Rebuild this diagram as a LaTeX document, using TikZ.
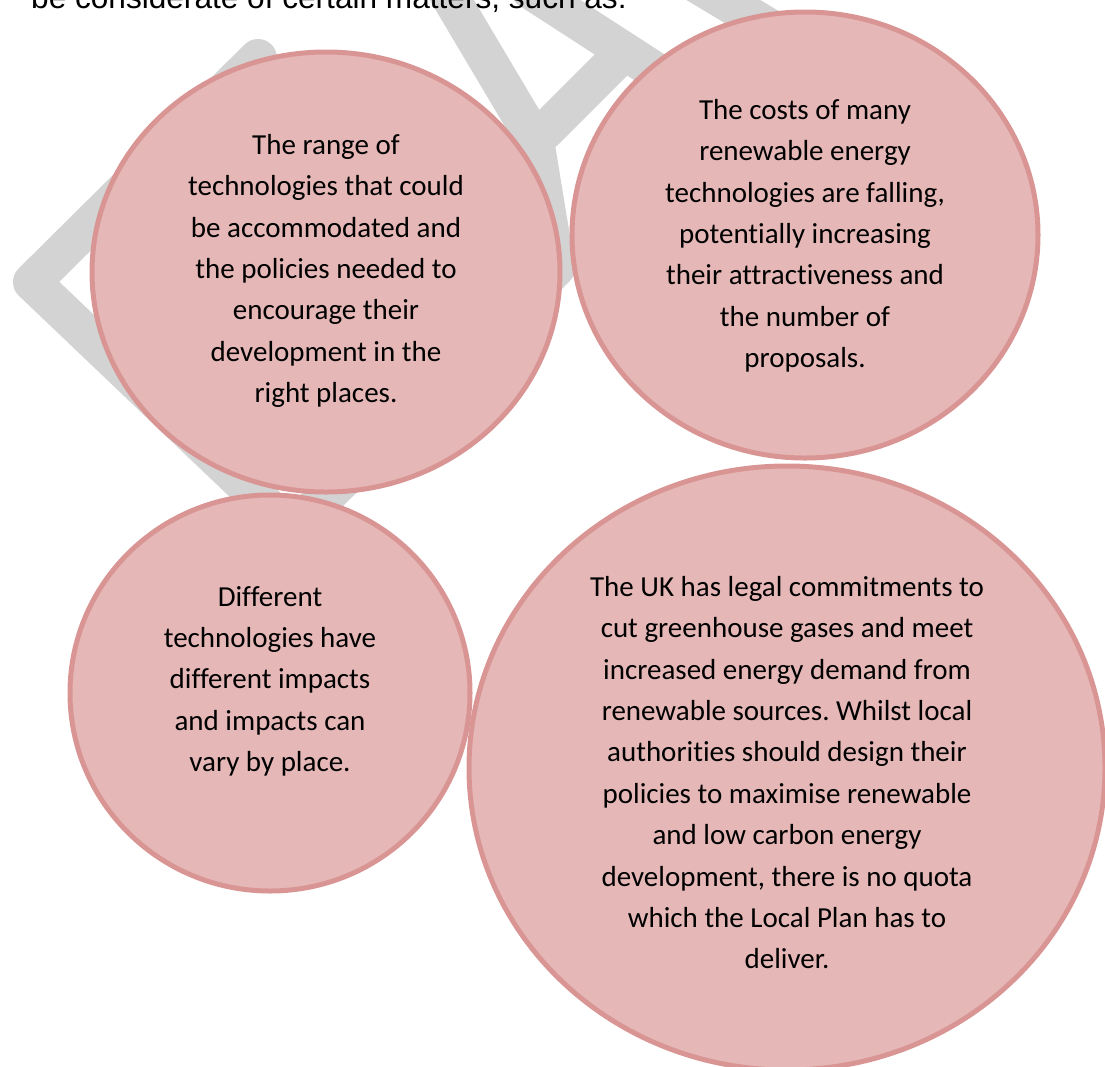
\documentclass[tikz,border=0pt]{standalone}
\usepackage{fontspec}
\setmainfont{Carlito}[Ligatures=NoCommon]
\newfontfamily\headfont{Liberation Sans}
\definecolor{bubblefill}{RGB}{229,184,183}
\definecolor{bubbleedge}{RGB}{217,149,148}
\definecolor{markgray}{RGB}{211,211,211}
\frenchspacing
\begin{document}
\begin{tikzpicture}[x=1pt,y=-1pt,
  bubble/.style={draw=bubbleedge, fill=bubblefill, line width=5pt},
  bubbletext/.style={align=center, font=\fontsize{29}{41.4}\selectfont, text=black, inner sep=0pt},
  wmstroke/.style={draw=markgray, line width=38pt, line cap=round, line join=round}]
\path[use as bounding box] (0,0) rectangle (1105,1066);
\clip (0,0) rectangle (1105,1066);

% grey background lettering
\draw[wmstroke] (258,58) -- (32,282) -- (292,530) -- (556,268) -- (535,140) -- (440,-20);
\draw[wmstroke] (530,-10) -- (700,100);
\draw[wmstroke] (545,131) -- (624,52);
\draw[wmstroke] (690,-20) -- (790,40);

% heading line
\node[anchor=base west, inner sep=0pt, font=\headfont\fontsize{31.6}{38}\selectfont] (head) at (31,8) {be considerate of certain matters, such as:};

% bubbles
\path[bubble] (326,272) ellipse [x radius=234, y radius=220];
\path[bubble] (805,235) ellipse [x radius=233, y radius=223];
\path[bubble] (270,693) ellipse [x radius=200, y radius=198];
\path[bubble] (787,768) ellipse [x radius=318, y radius=302];

\node[bubbletext, anchor=north] (t1) at (326,134) {The range of\\technologies that could\\be accommodated and\\the policies needed to\\encourage their\\development in the\\right places.};
\node[bubbletext, anchor=north] (t2) at (805,99) {The costs of many\\renewable energy\\technologies are falling,\\potentially increasing\\their attractiveness and\\the number of\\proposals.};
\node[bubbletext, anchor=north] (t3) at (270,586) {Different\\technologies have\\different impacts\\and impacts can\\vary by place.};
\node[bubbletext, anchor=north] (t4) at (787,576) {The UK has legal commitments to\\cut greenhouse gases and meet\\increased energy demand from\\renewable sources. Whilst local\\authorities should design their\\policies to maximise renewable\\and low carbon energy\\development, there is no quota\\which the Local Plan has to\\deliver.};
\end{tikzpicture}
\end{document}
